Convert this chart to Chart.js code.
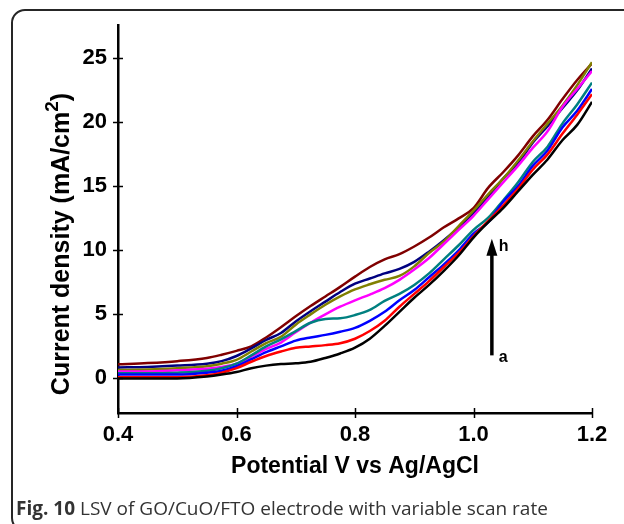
<!DOCTYPE html>
<html><head><meta charset="utf-8">
<script src="https://cdn.jsdelivr.net/npm/chart.js@4"></script>
<style>
html,body{margin:0;padding:0;background:#fff;}
#wrap{position:relative;width:624px;height:524px;overflow:hidden;background:#fff;}
#frame{position:absolute;left:11px;top:9px;width:700px;height:523px;border:2px solid #262626;border-radius:14px;box-sizing:border-box;}
#c{position:absolute;left:0;top:0;}
#cap{position:absolute;left:16px;top:496px;font-family:"Open Sans";font-size:19px;color:#333;white-space:nowrap;line-height:25px;}
#cap b{font-weight:700;}
</style></head>
<body>
<div id="wrap">
<div id="frame"></div>
<canvas id="c" width="624" height="524"></canvas>
<div id="cap"><b>Fig. 10</b> LSV of GO/CuO/FTO electrode with variable scan rate</div>
</div>
<script>
// Potential (V vs Ag/AgCl)
const potential = [0.40,0.45,0.50,0.55,0.575,0.60,0.625,0.65,0.675,0.70,0.725,0.75,0.775,0.80,0.825,0.85,0.875,0.90,0.925,0.95,0.975,1.00,1.025,1.05,1.075,1.10,1.125,1.15,1.175,1.20];
// Current density (mA/cm2), curves a..h
const curveA = [0.0,0.0,0.0,0.15,0.3,0.5,0.8,1.0,1.12,1.18,1.3,1.6,1.95,2.4,3.1,4.1,5.2,6.3,7.3,8.4,9.6,11.0,12.2,13.3,14.6,15.9,17.1,18.6,19.8,21.6];
const curveB = [0.1,0.1,0.1,0.25,0.45,0.8,1.3,1.75,2.1,2.4,2.5,2.6,2.75,3.1,3.7,4.5,5.6,6.6,7.6,8.7,9.8,11.1,12.3,13.5,14.8,16.3,17.5,19.1,20.6,22.2];
const curveC = [0.3,0.3,0.3,0.45,0.6,0.95,1.5,2.05,2.5,2.95,3.2,3.4,3.65,3.95,4.5,5.2,6.1,6.9,7.9,8.9,10.0,11.3,12.2,13.8,15.0,16.6,17.8,19.6,20.9,22.6];
const curveD = [0.4,0.4,0.45,0.6,0.8,1.15,1.8,2.5,3.05,3.7,4.35,4.65,4.7,4.95,5.35,6.05,6.6,7.3,8.2,9.3,10.4,11.6,12.55,13.9,15.3,16.9,18.1,19.9,21.4,23.1];
const curveE = [0.55,0.55,0.64,0.75,0.9,1.15,1.7,2.3,2.8,3.6,4.35,5.0,5.6,6.1,6.55,7.05,7.7,8.5,9.4,10.5,11.6,12.7,14.0,15.3,16.6,18.0,19.3,21.2,22.6,24.0];
const curveF = [0.65,0.7,0.8,0.95,1.15,1.45,2.1,2.75,3.25,4.2,5.0,5.75,6.4,6.95,7.35,7.7,8.0,8.75,9.8,10.7,11.9,13.1,14.4,15.6,17.0,18.5,19.9,21.3,22.9,24.7];
const curveG = [0.85,0.9,1.0,1.15,1.35,1.75,2.35,3.0,3.55,4.45,5.25,6.0,6.75,7.4,7.8,8.2,8.55,9.1,9.9,10.8,11.8,12.9,14.2,15.6,16.8,18.4,19.7,21.1,22.5,24.2];
const curveH = [1.1,1.2,1.35,1.6,1.85,2.15,2.5,3.2,4.0,4.85,5.65,6.4,7.15,7.95,8.7,9.3,9.7,10.3,11.0,11.8,12.5,13.3,14.9,16.1,17.4,18.9,20.2,21.8,23.3,24.6];
const curveNames = ["a","b","c","d","e","f","g","h"];
const curveColors = ["#000000","#ff0000","#0000ff","#008080","#ff00ff","#808000","#000080","#800000"];
const curves = [curveA,curveB,curveC,curveD,curveE,curveF,curveG,curveH];
// Axis ticks
const xTicks = [0.4,0.6,0.8,1.0,1.2];
const yTicks = [0,5,10,15,20,25];
// Arrow a -> h (data coordinates)
const arrowPotential = 1.031;
const arrowFrom = 1.8;
const arrowTo = 10.9;

const tickFont = {family:"'Liberation Sans', Arial, sans-serif", size:22, weight:'bold'};

const decor = {
  id:'decor',
  afterDraw(chart){
    const ctx = chart.ctx, xs = chart.scales.x, ys = chart.scales.y, a = chart.chartArea;
    ctx.save();
    ctx.strokeStyle = '#000'; ctx.lineWidth = 1.5;
    yTicks.forEach(v=>{ const y = Math.round(ys.getPixelForValue(v))+0.5; ctx.beginPath(); ctx.moveTo(a.left-5,y); ctx.lineTo(a.left+5,y); ctx.stroke(); });
    xTicks.forEach(v=>{ const x = Math.round(xs.getPixelForValue(v))+0.5; ctx.beginPath(); ctx.moveTo(x,a.bottom-5); ctx.lineTo(x,a.bottom+5); ctx.stroke(); });
    // arrow
    const ax = xs.getPixelForValue(arrowPotential);
    const y0 = ys.getPixelForValue(arrowFrom), y1 = ys.getPixelForValue(arrowTo);
    ctx.fillStyle = '#000';
    ctx.lineWidth = 3.5; ctx.beginPath(); ctx.moveTo(ax,y0); ctx.lineTo(ax,y1+14); ctx.stroke();
    ctx.beginPath(); ctx.moveTo(ax,y1); ctx.lineTo(ax-5.5,y1+17); ctx.lineTo(ax+5.5,y1+17); ctx.closePath(); ctx.fill();
    ctx.font = "bold 16px 'Liberation Sans', Arial, sans-serif";
    ctx.textAlign = 'left'; ctx.textBaseline = 'middle';
    ctx.fillText(curveNames[7], ax+7, y1+8);
    ctx.fillText(curveNames[0], ax+7, y0+2);
    // x title
    ctx.font = "bold 23px 'Liberation Sans', Arial, sans-serif";
    ctx.textAlign = 'center';
    ctx.fillText('Potential V vs Ag/AgCl', (a.left+a.right)/2, 467);
    // y title with superscript
    ctx.translate(62, 244); ctx.rotate(-Math.PI/2);
    const t1 = 'Current density (mA/cm', t2 = '2', t3 = ')';
    const f1 = "bold 25px 'Liberation Sans', Arial, sans-serif", f2 = "bold 19px 'Liberation Sans', Arial, sans-serif";
    ctx.font = f1; const w1 = ctx.measureText(t1).width, w3 = ctx.measureText(t3).width;
    ctx.font = f2; const w2 = ctx.measureText(t2).width;
    let sx = -(w1+w2+w3)/2;
    ctx.textAlign = 'left';
    ctx.font = f1; ctx.fillText(t1, sx, 0); sx += w1;
    ctx.font = f2; ctx.fillText(t2, sx, -9); sx += w2;
    ctx.font = f1; ctx.fillText(t3, sx, 0);
    ctx.restore();
  }
};

new Chart(document.getElementById('c'), {
  type:'line',
  data:{
    datasets: curves.map((c,i)=>({
      label: curveNames[i],
      data: potential.map((v,j)=>({x:v, y:c[j]})),
      borderColor: curveColors[i],
      borderWidth: 2.5,
      pointRadius: 0,
      fill:false,
      cubicInterpolationMode:'monotone'
    }))
  },
  options:{
    responsive:false, animation:false, devicePixelRatio:1,
    layout:{padding:{left:0,right:32,top:25,bottom:0}},
    plugins:{legend:{display:false}, tooltip:{enabled:false}},
    scales:{
      x:{type:'linear', min:0.4, max:1.2,
         afterBuildTicks(s){ s.ticks = xTicks.map(v=>({value:v})); },
         afterFit(s){ s.height = 111; },
         grid:{display:false},
         border:{display:true, color:'#000', width:2.5},
         ticks:{font:tickFont, color:'#000', padding:1, maxRotation:0, callback:v=>v.toFixed(1)}},
      y:{type:'linear', min:-2.7, max:27.6,
         afterBuildTicks(s){ s.ticks = yTicks.map(v=>({value:v})); },
         afterFit(s){ s.width = 118; },
         grid:{display:false},
         border:{display:true, color:'#000', width:2.5},
         ticks:{font:tickFont, color:'#000', padding:3, callback:v=>String(v)}}
    }
  },
  plugins:[decor]
});
</script>
</body></html>
